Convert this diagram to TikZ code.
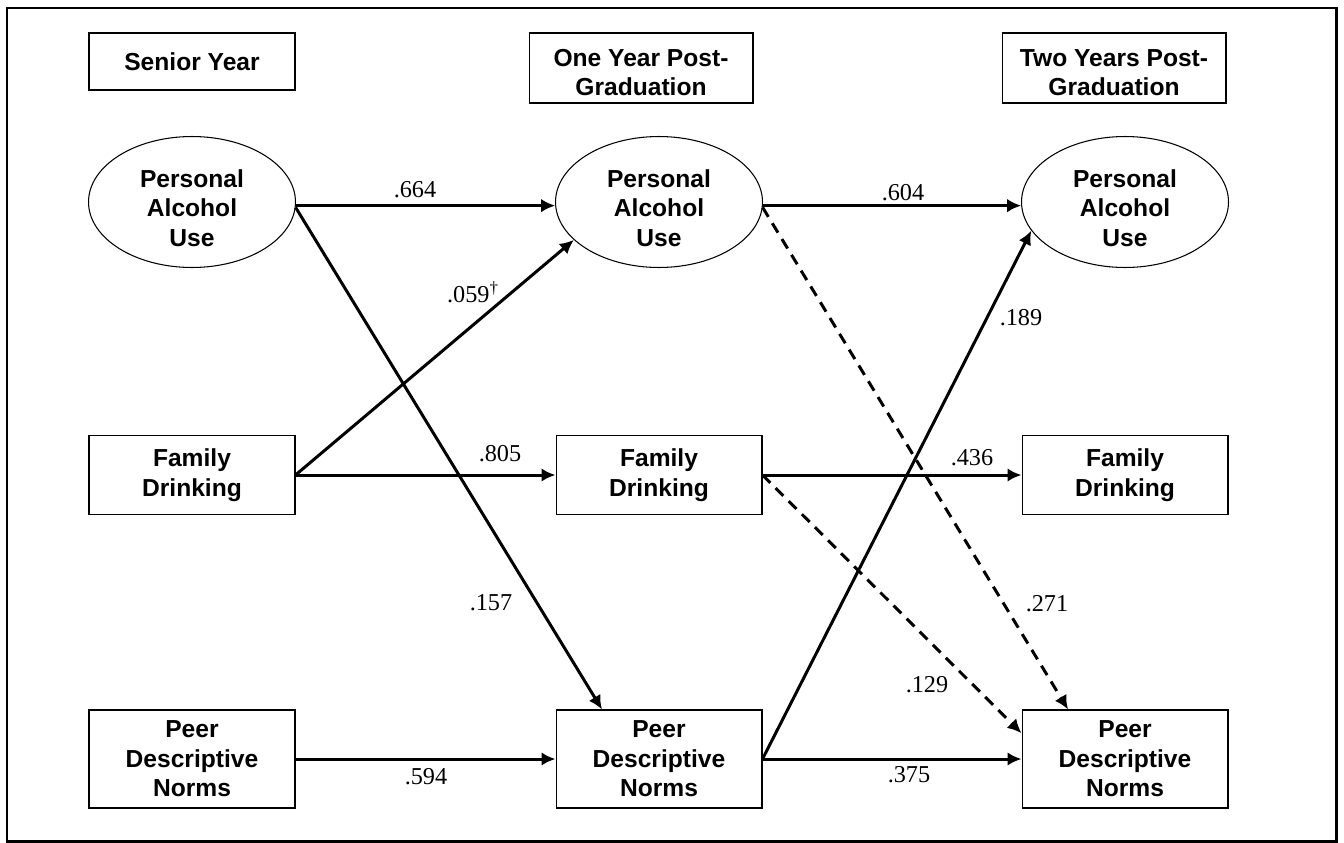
\documentclass[tikz,border=0pt]{standalone}
\usepackage{fontspec}
\setmainfont{Liberation Serif}
\newfontfamily\arialfont{Liberation Sans}
\usepackage{tikz}
\usetikzlibrary{shapes.geometric,arrows.meta}

\tikzset{
    box/.style={draw, rectangle, line width=0.6pt, minimum width=4.12cm, minimum height=1.58cm, align=center, inner sep=0pt, font=\arialfont\bfseries\fontsize{14}{16.8}\selectfont},
    tallbox/.style={box, minimum height=1.96cm},
    headbox/.style={box, minimum width=4.48cm, minimum height=1.4cm},
    latent/.style={box, ellipse, minimum width=4.14cm, minimum height=2.62cm},
    coef/.style={inner sep=0pt, font=\fontsize{13.8}{16}\selectfont},
    path/.style={line width=1.7pt, -{Latex[length=2.8mm,width=2.7mm]}},
    dpath/.style={path, dash pattern=on 2.2mm off 1.5mm}
}

\begin{document}
\begin{tikzpicture}[x=0.02cm, y=-0.02cm]
    \useasboundingbox (0,0) rectangle (1344,842);
    \draw[line width=1.7pt] (7,8) rectangle (1336,841);

    \node[headbox, minimum width=4.12cm, minimum height=1.14cm] (Time1) at (192,61.5) {Senior Year};
    \node[headbox] (Time2) at (641,68) {\rule{0pt}{5.2mm}One Year Post-\\Graduation};
    \node[headbox] (Time3) at (1114,68) {\rule{0pt}{5.2mm}Two Years Post-\\Graduation};

    \node[latent] (Alc1) at (192,202) {\rule{0pt}{6mm}Personal\\Alcohol\\Use};
    \node[latent] (Alc2) at (659,202) {\rule{0pt}{6mm}Personal\\Alcohol\\Use};
    \node[latent] (Alc3) at (1125,202) {\rule{0pt}{6mm}Personal\\Alcohol\\Use};

    \node[box] (Fam1) at (192,475) {Family\\Drinking};
    \node[box] (Fam2) at (659,475) {Family\\Drinking};
    \node[box] (Fam3) at (1125,475) {Family\\Drinking};

    \node[tallbox] (Peer1) at (192,759) {Peer\\Descriptive\\Norms};
    \node[tallbox] (Peer2) at (659,759) {Peer\\Descriptive\\Norms};
    \node[tallbox] (Peer3) at (1125,759) {Peer\\Descriptive\\Norms};

    \draw[path] (Alc1.-2) -- (Alc2.182);
    \draw[path] (Fam1.east) -- (Alc2.204);
    \draw[path] (Alc1.-3) -- (Peer2.139);
    \draw[path] (Fam1.east) -- (Fam2.west);
    \draw[path] (Peer1.east) -- (Peer2.west);
    \draw[path] (Alc2.-2) -- (Alc3.182);
    \draw[dpath] (Alc2.-3) -- (Peer3.139);
    \draw[path] (Fam2.east) -- (Fam3.west);
    \draw[dpath] (Fam2.east) -- (Peer3.166);
    \draw[path] (Peer2.east) -- (Alc3.197);
    \draw[path] (Peer2.east) -- (Peer3.west);

    \node[coef] (c664) at (415,190) {.664};
    \node[coef] (c059) at (473,292) {.059\textsuperscript{†}};
    \node[coef] (c157) at (491,603) {.157};
    \node[coef] (c805) at (500,454) {.805};
    \node[coef] (c594) at (426,777) {.594};
    \node[coef] (c604) at (903,193) {.604};
    \node[coef] (c189) at (1021,318) {.189};
    \node[coef] (c436) at (972,458) {.436};
    \node[coef] (c271) at (1047,604) {.271};
    \node[coef] (c129) at (927,685) {.129};
    \node[coef] (c375) at (909,775) {.375};
\end{tikzpicture}
\end{document}
